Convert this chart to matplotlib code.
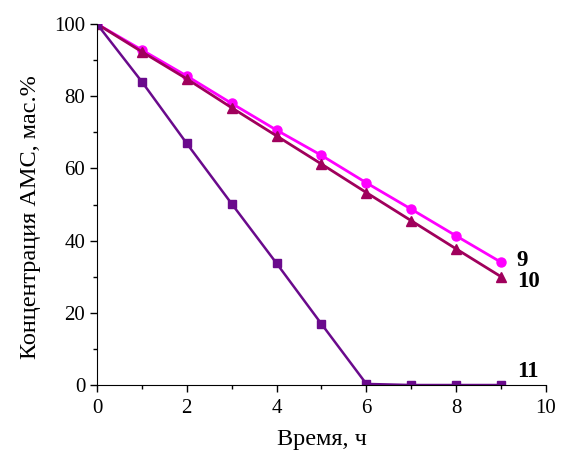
import numpy as np
import matplotlib.pyplot as plt
from matplotlib.ticker import MultipleLocator

# Data
time_h = [0, 1, 2, 3, 4, 5, 6, 7, 8, 9]
conc_9 = [100, 92.8, 85.6, 78.0, 70.6, 63.6, 56.0, 48.7, 41.3, 34.0]
conc_10 = [100, 92.3, 84.8, 76.8, 69.0, 61.2, 53.3, 45.5, 37.7, 30.0]
conc_11 = [100, 84.0, 66.9, 50.2, 33.7, 16.9, 0.3, 0, 0, 0]
curve_labels = ['9', '10', '11']

plt.rcParams['font.family'] = ['Liberation Serif', 'DejaVu Serif']

fig = plt.figure(figsize=(5.62, 4.5), dpi=100)
ax = fig.add_axes([0.1726, 0.1444, 0.7989, 0.8023])

ax.plot(time_h, conc_9, color='#FF00FF', marker='o', markersize=6.5, linewidth=2.0)
ax.plot(time_h, conc_10, color='#A0005C', marker='^', markersize=7, linewidth=2.0)
ax.plot(time_h, conc_11, color='#6A0A8C', marker='s', markersize=6, linewidth=1.8)

# curve numbers to the right of the last points
ax.text(time_h[-1] + 0.35, conc_9[-1] + 0.5, curve_labels[0], fontsize=16.5, fontweight='bold', va='center')
ax.text(time_h[-1] + 0.35, conc_10[-1] - 1.4, curve_labels[1], fontsize=16.5, fontweight='bold', va='center')
ax.text(time_h[-1] + 0.35, conc_11[-1] + 3.8, curve_labels[2], fontsize=16.5, fontweight='bold', va='center')

ax.set_xlim(0, 10)
ax.set_ylim(0, 100)
ax.xaxis.set_major_locator(MultipleLocator(2))
ax.xaxis.set_minor_locator(MultipleLocator(1))
ax.yaxis.set_major_locator(MultipleLocator(20))
ax.yaxis.set_minor_locator(MultipleLocator(10))
ax.tick_params(which='major', direction='out', length=5, width=1, labelsize=15)
ax.tick_params(axis='x', which='major', pad=5)
ax.tick_params(which='minor', direction='out', length=3, width=1)
ax.spines['top'].set_visible(False)
ax.spines['right'].set_visible(False)
ax.set_xlabel('Время, ч', fontsize=17.5, labelpad=8)
ax.set_ylabel('Концентрация АМС, мас.%', fontsize=17.5, labelpad=9)
ax.yaxis.set_label_coords(-0.125, 0.465)

fig.savefig('out.png', dpi=100)
